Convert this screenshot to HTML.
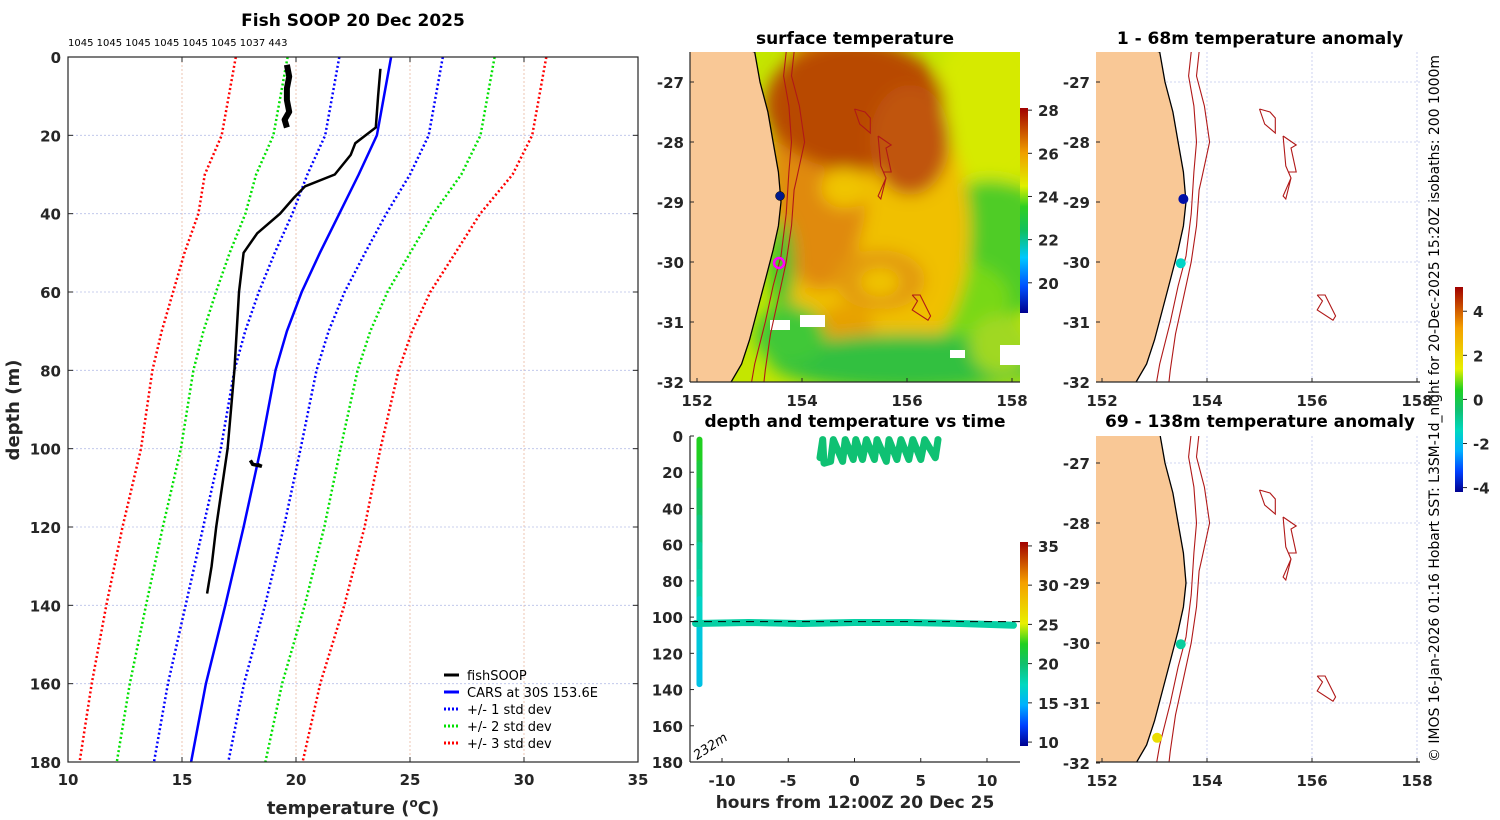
<!DOCTYPE html>
<html><head><meta charset="utf-8">
<style>
body{margin:0;background:#fff;}
svg{display:block;font-family:"DejaVu Sans","Liberation Sans",sans-serif;}
.tk{font-size:15px;font-weight:bold;fill:#262626;}
.ttl{font-size:17px;font-weight:bold;fill:#000;}
</style></head>
<body>
<svg id="fig" width="1500" height="820" viewBox="0 0 1500 820">
<defs>
 <filter id="blur" x="-20%" y="-20%" width="140%" height="140%"><feGaussianBlur stdDeviation="8"/></filter>
 <clipPath id="sstclip"><rect x="690" y="52" width="330" height="330"/></clipPath>
 <clipPath id="a1clip"><rect x="1096" y="52" width="324" height="330"/></clipPath>
 <clipPath id="a2clip"><rect x="1096" y="436" width="324" height="326"/></clipPath>
 <clipPath id="tclip"><rect x="690" y="436" width="330" height="326"/></clipPath>
 <linearGradient id="jet" x1="0" y1="1" x2="0" y2="0">
  <stop offset="0" stop-color="#00008f"/><stop offset="0.1" stop-color="#0040ff"/>
  <stop offset="0.2" stop-color="#00b0ff"/><stop offset="0.3" stop-color="#00d8c0"/>
  <stop offset="0.4" stop-color="#10c070"/><stop offset="0.5" stop-color="#20d020"/>
  <stop offset="0.6" stop-color="#e8f000"/><stop offset="0.8" stop-color="#f5a000"/>
  <stop offset="1" stop-color="#a00000"/>
 </linearGradient>
 <linearGradient id="sstbar" x1="0" y1="1" x2="0" y2="0">
  <stop offset="0" stop-color="#00008f"/><stop offset="0.13" stop-color="#0050ff"/>
  <stop offset="0.27" stop-color="#00c8ff"/><stop offset="0.4" stop-color="#10c060"/>
  <stop offset="0.52" stop-color="#30d020"/><stop offset="0.62" stop-color="#e0f000"/>
  <stop offset="0.78" stop-color="#f0a000"/><stop offset="1" stop-color="#a00000"/>
 </linearGradient>
</defs>

<!-- ========== LEFT PROFILE PLOT ========== -->
<g id="profile">
 <text class="ttl" x="353" y="26" text-anchor="middle">Fish SOOP 20 Dec 2025</text>
 <text x="68" y="46" font-size="10" fill="#000">1045 1045 1045 1045 1045 1045 1037 443</text>
 <g id="pgrid"></g>
 <g id="pseries"></g>
 <rect x="68" y="57" width="570" height="705" fill="none" stroke="#262626" stroke-width="1.2"/>
 <g id="pticks"></g>
 <text x="353" y="814" text-anchor="middle" font-size="18" font-weight="bold" fill="#262626">temperature (<tspan baseline-shift="super" font-size="12">o</tspan>C)</text>
 <text transform="translate(19,410) rotate(-90)" text-anchor="middle" font-size="18" font-weight="bold" fill="#262626">depth (m)</text>
 <g font-size="13" fill="#000">
  <line x1="444" y1="675" x2="459" y2="675" stroke="#000" stroke-width="3"/><text x="467" y="680">fishSOOP</text>
  <line x1="444" y1="692" x2="459" y2="692" stroke="#0000ff" stroke-width="3"/><text x="467" y="697">CARS at 30S 153.6E</text>
  <line x1="444" y1="709" x2="459" y2="709" stroke="#0000ff" stroke-width="3" stroke-dasharray="2,2"/><text x="467" y="714">+/- 1 std dev</text>
  <line x1="444" y1="726" x2="459" y2="726" stroke="#00e000" stroke-width="3" stroke-dasharray="2,2"/><text x="467" y="731">+/- 2 std dev</text>
  <line x1="444" y1="743" x2="459" y2="743" stroke="#ff0000" stroke-width="3" stroke-dasharray="2,2"/><text x="467" y="748">+/- 3 std dev</text>
 </g>
</g>

<!-- ========== SST MAP ========== -->
<g id="sst">
 <text class="ttl" x="855" y="44" text-anchor="middle">surface temperature</text>
 <g clip-path="url(#sstclip)">
  <rect x="690" y="52" width="330" height="330" fill="#c4e600"/>
  <g filter="url(#blur)">
   <ellipse cx="990" cy="110" rx="60" ry="80" fill="#d6ea00"/>
   <ellipse cx="990" cy="250" rx="70" ry="70" fill="#50cc28"/>
   <ellipse cx="950" cy="300" rx="60" ry="40" fill="#78d818"/>
   <ellipse cx="870" cy="230" rx="100" ry="150" fill="#f0c000"/>
   <ellipse cx="820" cy="160" rx="50" ry="130" fill="#e08a08"/>
   <ellipse cx="855" cy="105" rx="90" ry="65" fill="#b84806"/>
   <ellipse cx="910" cy="140" rx="40" ry="55" fill="#c0540a"/>
   <ellipse cx="845" cy="188" rx="24" ry="20" fill="#f0c400"/>
   <ellipse cx="880" cy="280" rx="45" ry="30" fill="#e29a0a"/>
   <ellipse cx="880" cy="282" rx="20" ry="14" fill="#f0c400"/>
   <ellipse cx="845" cy="330" rx="30" ry="25" fill="#e7a000"/>
   <ellipse cx="910" cy="362" rx="140" ry="28" fill="#30c040"/>
   <ellipse cx="782" cy="265" rx="12" ry="45" fill="#30c030"/>
   <ellipse cx="790" cy="335" rx="35" ry="30" fill="#40c838"/>
   <ellipse cx="1000" cy="345" rx="30" ry="30" fill="#a0d820"/>
  </g>
  <rect x="800" y="315" width="25" height="12" fill="#fff"/>
  <rect x="770" y="320" width="20" height="10" fill="#fff"/>
  <rect x="1000" y="345" width="20" height="20" fill="#fff"/>
  <rect x="950" y="350" width="15" height="8" fill="#fff"/>
  <g id="sstland"></g>
  <circle cx="780" cy="196" r="4.5" fill="#001a8c" stroke="#000" stroke-width="0.5"/>
  <circle cx="779" cy="263" r="5" fill="none" stroke="#ff00ff" stroke-width="2.5"/>
 </g>
 <line x1="690" y1="382" x2="1020" y2="382" stroke="#262626" stroke-width="1.2"/>
 <line x1="690" y1="52" x2="690" y2="382" stroke="#262626" stroke-width="1.2"/>
 <g id="sstticks"></g>
 <rect x="1020" y="108" width="8" height="205" fill="url(#sstbar)"/>
 <g id="sstcb"></g>
</g>

<!-- ========== DEPTH-TIME PLOT ========== -->
<g id="dt">
 <text class="ttl" x="855" y="427" text-anchor="middle">depth and temperature vs time</text>
 <g id="dtseries" clip-path="url(#tclip)"></g>
 <line x1="690" y1="762" x2="1020" y2="762" stroke="#262626" stroke-width="1.2"/>
 <line x1="690" y1="436" x2="690" y2="762" stroke="#262626" stroke-width="1.2"/>
 <g id="dtticks"></g>
 <text transform="translate(697,760) rotate(-33)" font-size="13" font-style="italic" fill="#000">232m</text>
 <text x="855" y="808" text-anchor="middle" font-size="17" font-weight="bold" fill="#262626">hours from 12:00Z 20 Dec 25</text>
 <rect x="1020" y="542" width="8" height="204" fill="url(#jet)"/>
 <g id="dtcb"></g>
</g>

<!-- ========== ANOMALY MAPS ========== -->
<g id="an1">
 <text class="ttl" x="1260" y="44" text-anchor="middle">1 - 68m temperature anomaly</text>
 <g id="an1body" clip-path="url(#a1clip)"></g>
 <line x1="1096" y1="382" x2="1420" y2="382" stroke="#262626" stroke-width="1.2"/>
 <g id="an1ticks"></g>
</g>
<g id="an2">
 <text class="ttl" x="1260" y="427" text-anchor="middle">69 - 138m temperature anomaly</text>
 <g id="an2body" clip-path="url(#a2clip)"></g>
 <line x1="1096" y1="762" x2="1420" y2="762" stroke="#262626" stroke-width="1.2"/>
 <g id="an2ticks"></g>
</g>
<rect x="1455" y="287" width="8" height="205" fill="url(#jet)"/>
<g id="ancb"></g>
<text transform="translate(1439,762) rotate(-90)" font-size="14" textLength="707" lengthAdjust="spacingAndGlyphs" fill="#000">© IMOS 16-Jan-2026 01:16 Hobart SST: L3SM-1d_night for 20-Dec-2025 15:20Z isobaths: 200  1000m</text>
</svg>

<script>
const NS='http://www.w3.org/2000/svg';
// ---- profile data ----
const carsDepth=[0,20,30,40,50,60,70,80,100,120,140,160,180];
const carsMean=[24.17,23.55,22.75,21.9,21.05,20.25,19.6,19.1,18.45,17.7,16.9,16.05,15.4];
const carsStd=[2.27,2.27,2.25,2.06,1.98,1.88,1.83,1.8,1.75,1.77,1.74,1.67,1.63];
const fishDepth=[3,10,18,22,25,30,33,36,40,45,50,60,80,100,110,120,130,137];
const fishTemp=[23.7,23.6,23.5,22.6,22.4,21.7,20.4,19.9,19.3,18.3,17.7,17.5,17.3,17.0,16.75,16.5,16.3,16.1];
const fishSurfDepth=[2,5,8,11,14,16,18];
const fishSurfTemp=[19.6,19.7,19.6,19.6,19.7,19.5,19.6];
const fishBlobDepth=[103,104,104.5,104];
const fishBlobTemp=[18.0,18.1,18.5,18.3];
const tTicks=[10,15,20,25,30,35];
const dTicks=[0,20,40,60,80,100,120,140,160,180];
// ---- map data ----
const lonTicks=[152,154,156,158];
const latTicks=[-27,-28,-29,-30,-31,-32];
const sstCbTicks=[28,26,24,22,20];
const anomCbTicks=[4,2,0,-2,-4];
const coastLon=[153.1,153.2,153.35,153.45,153.55,153.6,153.55,153.45,153.3,153.15,153.0,152.85,152.65,152.5];
const coastLat=[-26.5,-27.0,-27.5,-28.0,-28.5,-29.0,-29.4,-29.8,-30.3,-30.8,-31.3,-31.7,-32.0,-32.2];
const iso1Lon=[153.7,153.65,153.75,153.8,153.75,153.7,153.6,153.45,153.3,153.1,153.0];
const iso1Lat=[-26.5,-26.9,-27.4,-28.0,-28.5,-29.2,-29.9,-30.4,-31.0,-31.7,-32.2];
const iso2Lon=[153.85,153.8,153.95,154.05,153.9,153.85,153.8,153.7,153.55,153.4,153.3,153.25];
const iso2Lat=[-26.5,-26.9,-27.4,-28.0,-28.6,-28.8,-29.4,-30.0,-30.6,-31.2,-31.8,-32.2];
const smA_lon=[155.0,155.2,155.3,155.3,155.1,155.0];
const smA_lat=[-27.45,-27.5,-27.6,-27.85,-27.7,-27.45];
const smB_lon=[155.45,155.7,155.6,155.7,155.55,155.6,155.45,155.5,155.6,155.5,155.45];
const smB_lat=[-27.9,-28.05,-28.1,-28.5,-28.5,-28.6,-28.9,-28.95,-28.6,-28.4,-27.9];
const smC_lon=[156.1,156.25,156.45,156.4,156.1,156.2,156.1];
const smC_lat=[-30.55,-30.55,-30.9,-30.97,-30.8,-30.65,-30.55];
const an1PtLon=[153.55,153.5]; const an1PtLat=[-28.95,-30.02]; const an1PtVal=[-4,-1.5];
const an2PtLon=[153.5,153.05]; const an2PtLat=[-30.02,-31.58]; const an2PtVal=[-1,1.8];
// ---- depth-time data ----
const hrTicks=[-10,-5,0,5,10];
const dtDepthTicks=[0,20,40,60,80,100,120,140,160,180];
const dtCbTicks=[35,30,25,20,15,10];
const castDepth=[2,15,30,45,60,75,90,104,120,137];
const castTemp=[23.5,22.5,21.5,20.5,19.5,18.5,18.0,17.0,16.2,15.8];
const castHour=-11.7;
const tow1Hour=[-12,-8,-4,0,4,8,12];
const tow1Depth=[103.5,103,103.5,103,103,103.5,104.5];
const tow1Temp=[18.2,18.2,18.2,18.2,18.2,18.2,18.2];
const tow2Hour=[-2.6,-2.4,-2.3,-1.8,-1.6,-0.9,-0.7,-0.1,0.1,0.6,0.9,1.5,1.7,2.4,2.6,3.2,3.5,4.1,4.4,5.0,5.3,6.1,6.3];
const tow2Depth=[12,2,15,14,2,14,2,13,2,13,2,13,2,14,2,13,2,13,2,13,2,12,2];
const tow2Temp=[19.8,19.8,19.8,19.8,19.8,19.8,19.8,19.8,19.8,19.8,19.8,19.8,19.8,19.8,19.8,19.8,19.8,19.8,19.8,19.8,19.8,19.8,19.8];

function mk(tag,attrs,parent){const e=document.createElementNS(NS,tag);for(const k in attrs)e.setAttribute(k,attrs[k]);parent.appendChild(e);return e;}
function $(id){return document.getElementById(id);}
const px=t=>68+(t-10)*22.8, py=d=>57+d*(705/180);
function pathOf(xs,ys,fx,fy){return xs.map((v,i)=>(i?'L':'M')+fx(v).toFixed(1)+','+fy(ys[i]).toFixed(1)).join(' ');}
const pg=$('pgrid');
tTicks.slice(1,-1).forEach(t=>{const l=mk('line',{x1:px(t),x2:px(t),y1:57,y2:762,stroke:'#e8b8a0','stroke-width':0.8,'stroke-dasharray':'2,2'},pg);});
dTicks.slice(1,-1).forEach(d=>{const l=mk('line',{x1:68,x2:638,y1:py(d),y2:py(d),stroke:'#b8c0e8','stroke-width':0.8,'stroke-dasharray':'2,2'},pg);});
const ps=$('pseries');
const sdCol={1:'#0000ff',2:'#00e000',3:'#ff0000'};
[1,2,3].forEach(k=>{[-1,1].forEach(s=>{const vals=carsMean.map((m,i)=>m+s*k*carsStd[i]);const p=mk('path',{d:pathOf(vals,carsDepth,px,py),fill:'none',stroke:sdCol[k],'stroke-width':2.5,'stroke-dasharray':'2,2.5'},ps);});});
let p=mk('path',{d:pathOf(carsMean,carsDepth,px,py),fill:'none',stroke:'#0000ff','stroke-width':2.5},ps);

p=mk('path',{d:pathOf(fishTemp,fishDepth,px,py),fill:'none',stroke:'#000','stroke-width':2.5},ps);

p=mk('path',{d:pathOf(fishSurfTemp,fishSurfDepth,px,py),fill:'none',stroke:'#000','stroke-width':6,'stroke-linejoin':'round'},ps);

p=mk('path',{d:pathOf(fishBlobTemp,fishBlobDepth,px,py),fill:'none',stroke:'#000','stroke-width':3.5},ps);

const pt=$('pticks');
tTicks.forEach(t=>{mk('line',{x1:px(t),x2:px(t),y1:757,y2:762,stroke:'#262626'},pt);mk('line',{x1:px(t),x2:px(t),y1:57,y2:62,stroke:'#262626'},pt);const e=mk('text',{x:px(t),y:785,'text-anchor':'middle',class:'tk'},pt);e.textContent=t;});
dTicks.forEach(d=>{mk('line',{x1:68,x2:73,y1:py(d),y2:py(d),stroke:'#262626'},pt);mk('line',{x1:633,x2:638,y1:py(d),y2:py(d),stroke:'#262626'},pt);const e=mk('text',{x:61,y:py(d)+6,'text-anchor':'end',class:'tk'},pt);e.textContent=d;});

function mapAxes(x0,latRef){return {fx:lon=>x0+(lon-152)*52.5, fy:lat=>latRef+(-27-lat)*60};}
function drawMap(g,M,left,top,right,bottom,withGrid){
 if(withGrid){lonTicks.forEach(l=>{const x=M.fx(l);if(x>left&&x<right){const e=mk('line',{x1:x,x2:x,y1:top,y2:bottom,stroke:'#c0c8ee','stroke-width':0.8,'stroke-dasharray':'2,2'},g);}});
 latTicks.forEach(l=>{const y=M.fy(l);const e=mk('line',{x1:left,x2:right,y1:y,y2:y,stroke:'#c0c8ee','stroke-width':0.8,'stroke-dasharray':'2,2'},g);});}
 let d='M'+left+','+(top-20)+' '+coastLon.map((v,i)=>'L'+M.fx(v).toFixed(1)+','+M.fy(coastLat[i]).toFixed(1)).join(' ')+' L'+left+','+(bottom+20)+' Z';
 let e=mk('path',{d:d,fill:'#f9c896',stroke:'#000','stroke-width':1.3},g);
 [[iso1Lon,iso1Lat],[iso2Lon,iso2Lat],[smA_lon,smA_lat],[smB_lon,smB_lat],[smC_lon,smC_lat]].forEach((a,i)=>{e=mk('path',{d:pathOf(a[0],a[1],M.fx,M.fy),fill:'none',stroke:'#b01818','stroke-width':1.1},g);});
}
function jetColor(v,lo,hi){const stops=[[0,[0,0,143]],[0.1,[0,64,255]],[0.2,[0,176,255]],[0.3,[0,216,192]],[0.4,[16,192,112]],[0.5,[32,208,32]],[0.6,[232,240,0]],[0.8,[245,160,0]],[1,[160,0,0]]];let f=Math.max(0,Math.min(1,(v-lo)/(hi-lo)));for(let i=1;i<stops.length;i++){if(f<=stops[i][0]){const a=stops[i-1],b=stops[i],r=(f-a[0])/(b[0]-a[0]);const c=a[1].map((x,j)=>Math.round(x+(b[1][j]-x)*r));return 'rgb('+c.join(',')+')';}}return 'rgb(160,0,0)';}
function lonLatTicks(g,M,bottom,left){
 lonTicks.forEach(l=>{const x=M.fx(l);mk('line',{x1:x,x2:x,y1:bottom-4,y2:bottom,stroke:'#262626'},g);const e=mk('text',{x:x,y:bottom+24,'text-anchor':'middle',class:'tk'},g);e.textContent=l;});
 latTicks.forEach(l=>{const y=M.fy(l);mk('line',{x1:left,x2:left+4,y1:y,y2:y,stroke:'#262626'},g);const e=mk('text',{x:left-6,y:y+6,'text-anchor':'end',class:'tk'},g);e.textContent=l;});
}
function cbTicks(g,ticks,lo,hi,x,yTop,yBot){ticks.forEach(t=>{const y=yBot-(t-lo)/(hi-lo)*(yBot-yTop);mk('line',{x1:x,x2:x+4,y1:y,y2:y,stroke:'#262626'},g);const e=mk('text',{x:x+10,y:y+6,class:'tk'},g);e.textContent=t;});}

const Ms=mapAxes(697,82);
drawMap($('sstland'),Ms,680,52,1020,382,false);
lonLatTicks($('sstticks'),Ms,382,690);
cbTicks($('sstcb'),sstCbTicks,18.6,28.1,1028,108,313);

const M1=mapAxes(1102,82), M2=mapAxes(1102,463);
drawMap($('an1body'),M1,1090,52,1420,382,true);
drawMap($('an2body'),M2,1090,436,1420,762,true);
an1PtLon.forEach((l,i)=>{const c=mk('circle',{cx:M1.fx(l),cy:M1.fy(an1PtLat[i]),r:5,fill:jetColor(an1PtVal[i],-4.2,5.1)},$('an1body'));});
an2PtLon.forEach((l,i)=>{const c=mk('circle',{cx:M2.fx(l),cy:M2.fy(an2PtLat[i]),r:5,fill:jetColor(an2PtVal[i],-4.2,5.1)},$('an2body'));});
lonLatTicks($('an1ticks'),M1,382,1096);
lonLatTicks($('an2ticks'),M2,762,1096);
cbTicks($('ancb'),anomCbTicks,-4.2,5.1,1463,287,492);

const hx=h=>854.5+h*13.25, dy=d=>436+d*(326/180);
const ds=$('dtseries');
for(let i=1;i<castDepth.length;i++){const l=mk('line',{x1:hx(castHour),x2:hx(castHour),y1:dy(castDepth[i-1]),y2:dy(castDepth[i]),stroke:jetColor(castTemp[i],9.5,35.5),'stroke-width':6,'stroke-linecap':'round'},ds);}
p=mk('path',{d:pathOf(tow1Hour,tow1Depth,hx,dy),fill:'none',stroke:jetColor(tow1Temp[0],9.5,35.5),'stroke-width':7,'stroke-linecap':'round'},ds);

p=mk('line',{x1:690,x2:1020,y1:dy(102.5),y2:dy(102.5),stroke:'#000','stroke-width':1,'stroke-dasharray':'8,6'},ds);

p=mk('path',{d:pathOf(tow2Hour,tow2Depth,hx,dy),fill:'none',stroke:jetColor(tow2Temp[0],9.5,35.5),'stroke-width':7,'stroke-linejoin':'round','stroke-linecap':'round'},ds);

const dtt=$('dtticks');
hrTicks.forEach(h=>{mk('line',{x1:hx(h),x2:hx(h),y1:758,y2:762,stroke:'#262626'},dtt);const e=mk('text',{x:hx(h),y:786,'text-anchor':'middle',class:'tk'},dtt);e.textContent=h;});
dtDepthTicks.forEach(d=>{mk('line',{x1:690,x2:694,y1:dy(d),y2:dy(d),stroke:'#262626'},dtt);const e=mk('text',{x:683,y:dy(d)+6,'text-anchor':'end',class:'tk'},dtt);e.textContent=d;});
cbTicks($('dtcb'),dtCbTicks,9.5,35.5,1028,542,746);
</script>
</body></html>
